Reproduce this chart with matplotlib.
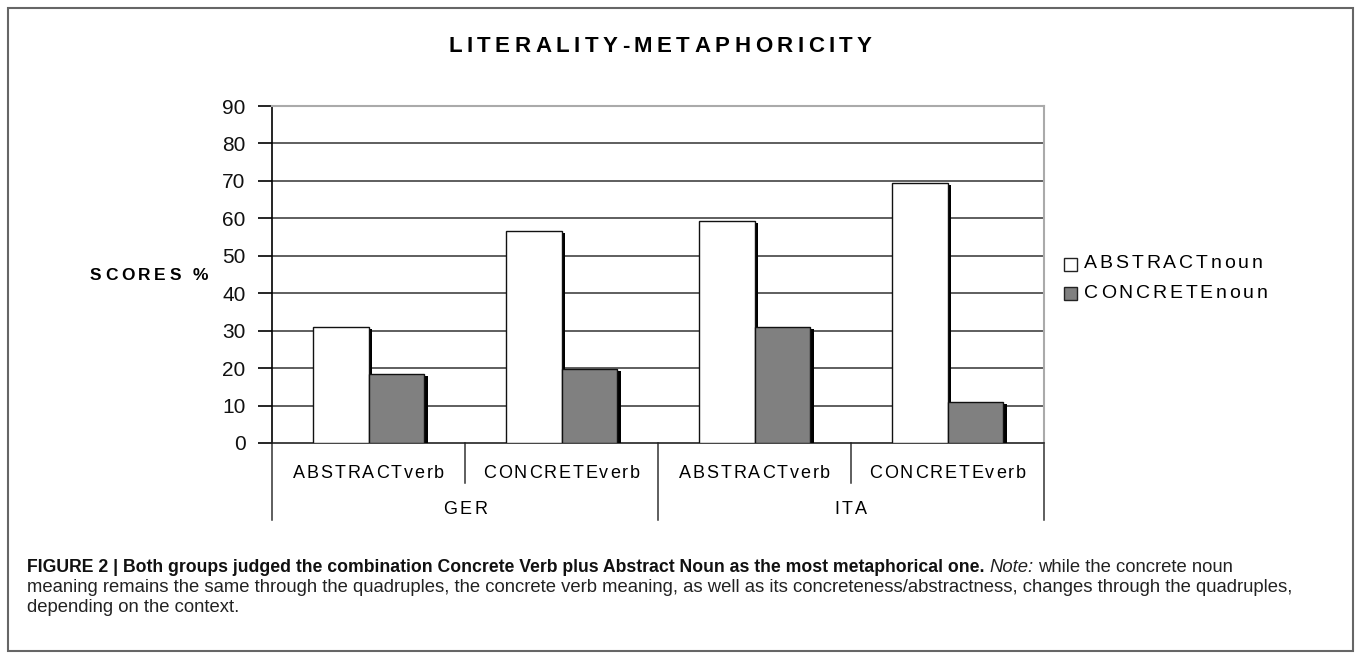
import matplotlib
matplotlib.use("Agg")
import matplotlib.pyplot as plt
import matplotlib.patheffects as pe
from matplotlib.patches import Rectangle
from matplotlib.font_manager import FontProperties
import numpy as np

# data
verbs = ["ABSTRACTverb", "CONCRETEverb", "ABSTRACTverb", "CONCRETEverb"]
groups = ["GER", "ITA"]
abstract_noun = [31, 56.7, 59.2, 69.4]
concrete_noun = [18.5, 19.8, 31, 11]
yticks = [0, 10, 20, 30, 40, 50, 60, 70, 80, 90]

W, H = 1355, 653
FONT = "Liberation Sans"
plt.rcParams["font.family"] = [FONT, "DejaVu Sans"]

fig = plt.figure(figsize=(W / 100, H / 100), dpi=100)
fig.patch.set_facecolor("white")


def fx(px):
    return px / W


def fy(py):
    return 1 - py / H


renderer = fig.canvas.get_renderer()


def spaced(x, y, s, size, track, ha="center", weight="normal", color="black"):
    # draw text with letter spacing (track in px), x/y in pixels from top-left
    fp = FontProperties(family=[FONT, "DejaVu Sans"], size=size, weight=weight)
    widths = [renderer.get_text_width_height_descent(c, fp, ismath=False)[0] for c in s]
    total = sum(widths) + track * (len(s) - 1)
    if ha == "center":
        cx = x - total / 2
    elif ha == "right":
        cx = x - total
    else:
        cx = x
    for c, w in zip(s, widths):
        fig.text(fx(cx), fy(y), c, fontproperties=fp, color=color,
                 ha="left", va="center")
        cx += w + track


def fit_size(s, target, weight="normal", style="normal"):
    # font size that makes the string about target px wide
    fp = FontProperties(family=[FONT, "DejaVu Sans"], size=10, weight=weight, style=style)
    w = renderer.get_text_width_height_descent(s, fp, ismath=False)[0]
    return 10 * target / w


# outer frame
fig.add_artist(Rectangle((fx(8), fy(651)), fx(1353) - fx(8), fy(8) - fy(651),
                         transform=fig.transFigure, fill=False,
                         edgecolor="#666666", lw=1.5))

left, right, top, bottom = 272, 1044, 106, 443
ax = fig.add_axes([fx(left), fy(bottom), fx(right) - fx(left), fy(top) - fy(bottom)])

x = np.arange(len(verbs))
bw = 0.29
shadow = [pe.withSimplePatchShadow(offset=(2.2, -1.5), shadow_rgbFace="black", alpha=1.0)]
ax.bar(x - bw / 2, abstract_noun, bw, color="white", edgecolor="#111111", lw=1,
       zorder=3, path_effects=shadow)
ax.bar(x + bw / 2, concrete_noun, bw, color="#808080", edgecolor="#111111", lw=1,
       zorder=3, path_effects=shadow)

ax.set_xlim(-0.5, len(verbs) - 0.5)
ax.set_ylim(0, 90)
ax.set_yticks(yticks)
ax.set_yticklabels([str(v) for v in yticks], fontsize=15, color="#111111")
ax.tick_params(axis="y", length=10, width=1.2, color="black", pad=9)
ax.set_xticks([])
for v in yticks[1:-1]:
    ax.axhline(v, color="#333333", lw=1.1, zorder=1)
ax.spines["left"].set_color("black")
ax.spines["left"].set_linewidth(1.2)
ax.spines["bottom"].set_color("#222222")
ax.spines["bottom"].set_linewidth(1.2)
ax.spines["top"].set_color("#aaaaaa")
ax.spines["right"].set_color("#aaaaaa")
ax.spines["top"].set_linewidth(1.5)
ax.spines["right"].set_linewidth(1.5)

# hierarchical category axis
trans = ax.get_xaxis_transform()
ax_h = bottom - top
long_y = -(520 - bottom) / ax_h
short_y = -(483 - bottom) / ax_h
for xv in [-0.5, 1.5, 3.5]:
    ax.plot([xv, xv], [0, long_y], transform=trans, color="#333333", lw=1.1, clip_on=False)
for xv in [0.5, 2.5]:
    ax.plot([xv, xv], [0, short_y], transform=trans, color="#333333", lw=1.1, clip_on=False)


def data_px(xv):
    return left + (xv + 0.5) / len(verbs) * (right - left)


for i, lab in enumerate(verbs):
    spaced(data_px(i), 473, lab, 13, 1.9)
for g, lab in enumerate(groups):
    spaced(data_px(2 * g + 0.5), 510, lab, 13, 2.5)

# title and y label
spaced(660, 47, "LITERALITY-METAPHORICITY", 16, 4.5, weight="bold")
spaced(149, 276, "SCORES %", 12.5, 3.6, weight="bold")

# legend
legend_items = [("ABSTRACTnoun", "white"), ("CONCRETEnoun", "#808080")]
for k, (lab, col) in enumerate(legend_items):
    yc = 264 + k * 29
    fig.add_artist(Rectangle((fx(1064), fy(yc + 6.5)), fx(13), fy(yc - 6.5) - fy(yc + 6.5),
                             transform=fig.transFigure, facecolor=col,
                             edgecolor="#222222", lw=1))
    spaced(1084, yc, lab, 14, 2.8, ha="left")

# caption
cap1 = ("FIGURE 2 | Both groups judged the combination Concrete Verb plus "
        "Abstract Noun as the most metaphorical one.")
cap2 = ("meaning remains the same through the quadruples, the concrete verb "
        "meaning, as well as its concreteness/abstractness, changes through the quadruples,")
cap3 = "depending on the context."
bold_size = fit_size(cap1, 952, weight="bold")
reg_size = fit_size(cap2, 1276)
t1 = fig.text(fx(27), fy(567), cap1, weight="bold", size=bold_size,
              va="center", ha="left", color="#111111")
bb = t1.get_window_extent(renderer)
t2 = fig.text(bb.x1 / W + fx(5), fy(567), "Note:", style="italic",
              size=reg_size, va="center", ha="left", color="#222222")
bb2 = t2.get_window_extent(renderer)
fig.text(bb2.x1 / W + fx(4), fy(567), "while the concrete noun",
         size=reg_size, va="center", ha="left", color="#222222")
fig.text(fx(27), fy(588), cap2, size=reg_size, va="center", ha="left", color="#222222")
fig.text(fx(27), fy(608), cap3, size=reg_size, va="center", ha="left", color="#222222")

fig.savefig("out.png", dpi=100, facecolor="white")
